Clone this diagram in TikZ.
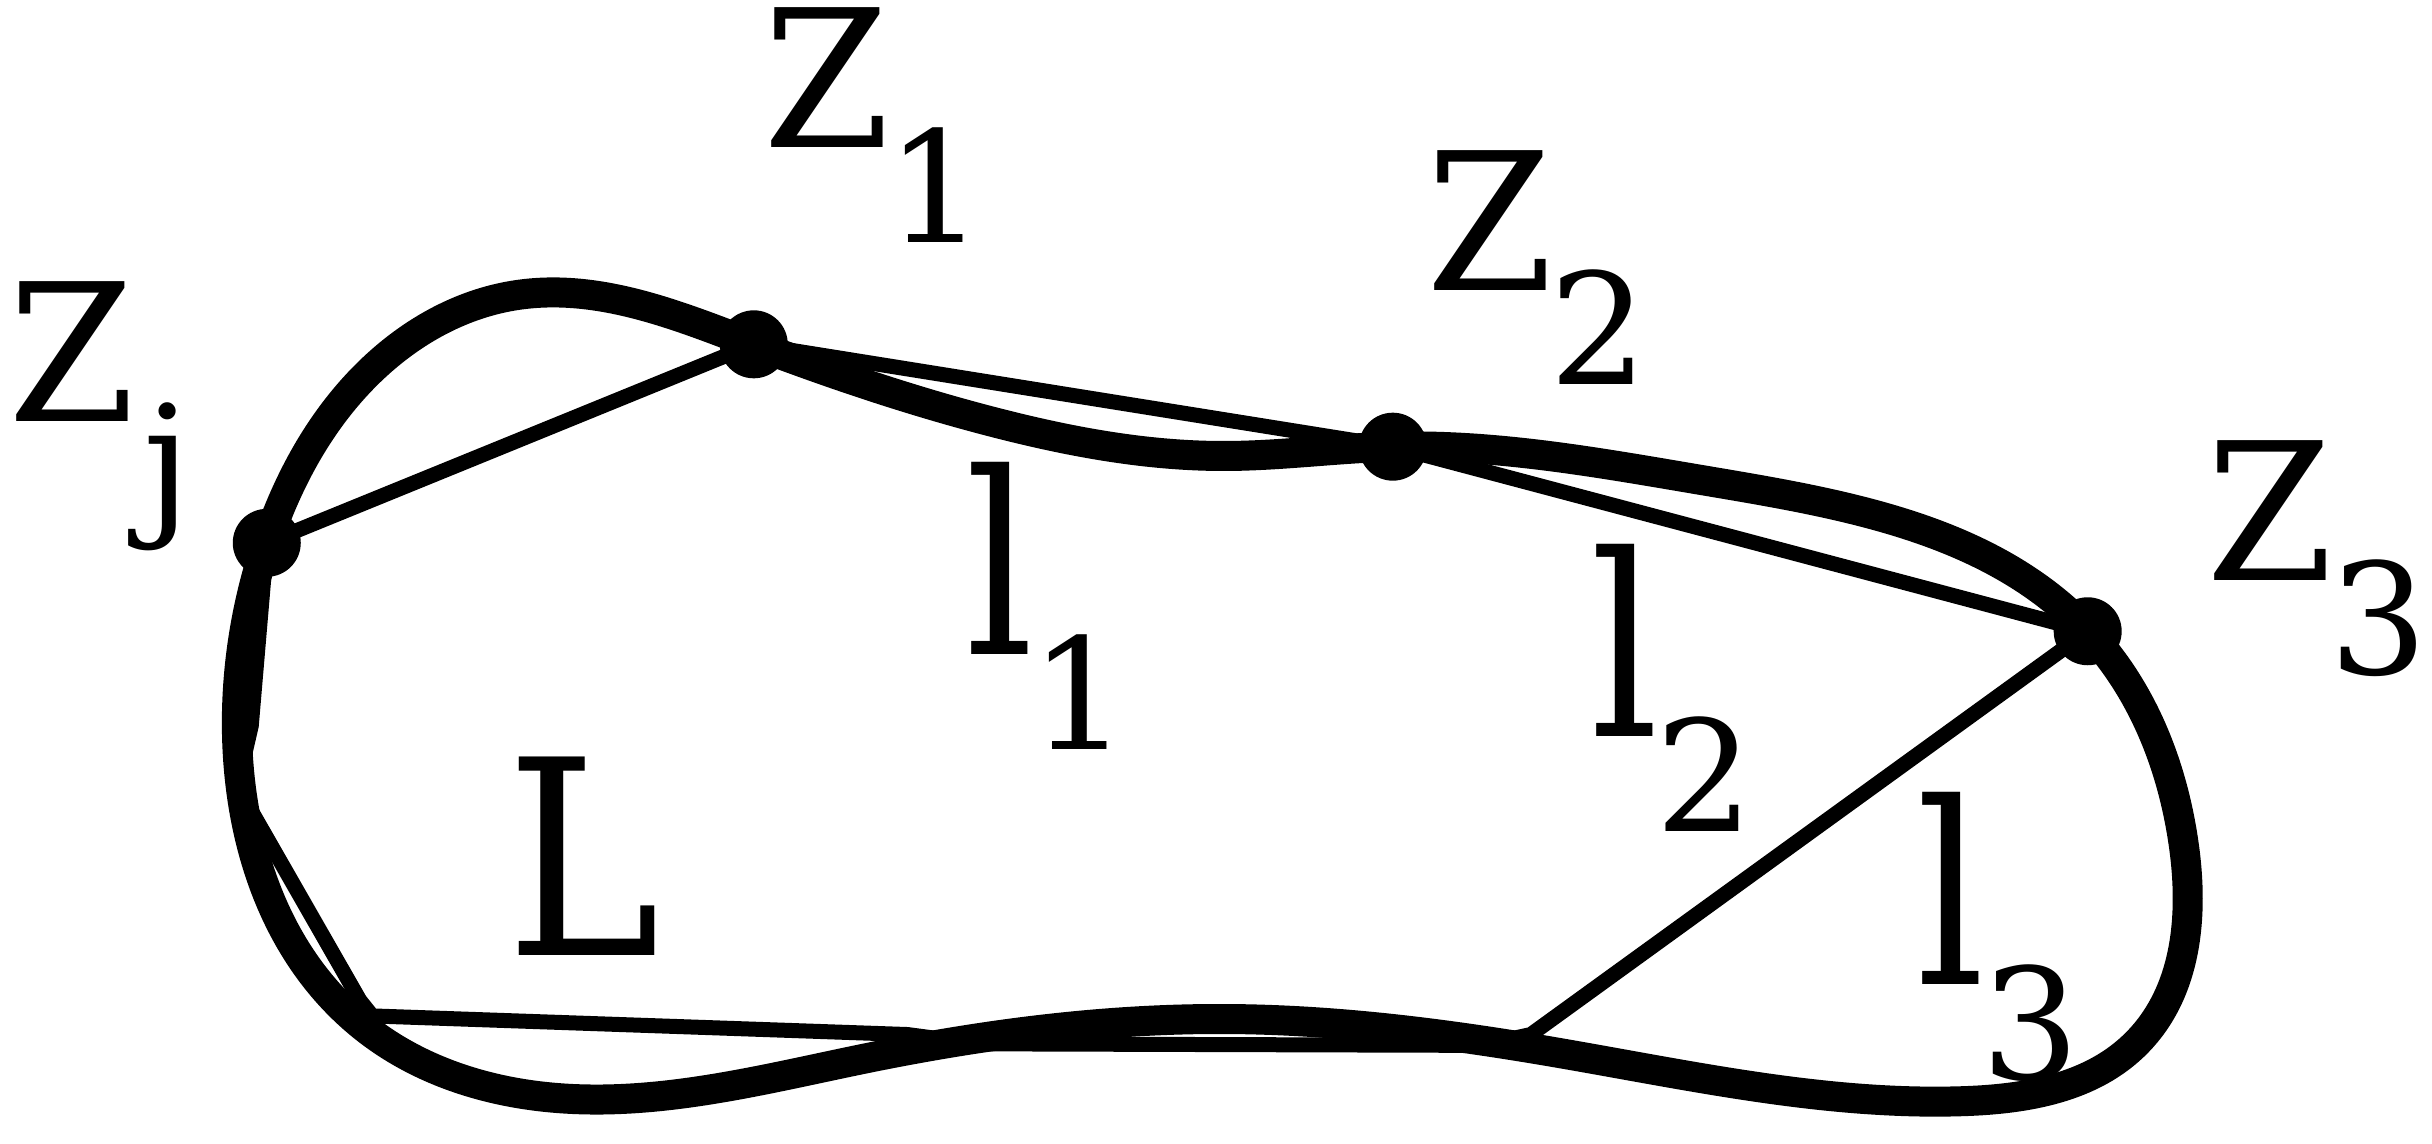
\documentclass[tikz,border=0pt]{standalone}
\usepackage{fontspec}
\usetikzlibrary{hobby}
\newfontfamily\zfont[FakeStretch=0.95]{DejaVu Serif}
\newfontfamily\lfont[FakeStretch=0.85]{DejaVu Serif}
\newfontfamily\dfont{DejaVu Serif}
\newcommand\mylab[4]{{#4\fontsize{#3}{#3}\selectfont #1}\kern-1pt\raisebox{-27pt}{\dfont\fontsize{44pt}{44pt}\selectfont #2}}
\begin{document}
\begin{tikzpicture}[x=0.1551mm, y=-0.1551mm,
  thinline/.style={line width=1.5mm, line join=miter},
  thickcurve/.style={line width=3mm},
  dot/.style={circle, fill=black, inner sep=0pt, minimum size=6.8mm},
  lab/.style={anchor=base west, inner sep=0pt}]
\useasboundingbox (0,0) rectangle (1568,737);
% vertices
\coordinate (zj) at (172,350);
\coordinate (z1) at (486,222);
\coordinate (z2) at (898,288);
\coordinate (z3) at (1346,407);
\coordinate (p) at (987,667);
\coordinate (f) at (955,674);
\coordinate (e) at (630,673);
\coordinate (d) at (585,667);
\coordinate (c) at (240,655);
\coordinate (b) at (232,645);
\coordinate (a2) at (153,507);
\coordinate (a) at (162,468);
% polygon
\draw[thinline] (zj) -- (z1) -- (z2) -- (z3) -- (p) -- (f) -- (e) -- (d) -- (c) -- (b) -- (a2) -- (a) -- cycle;
% closed curve
\draw[thickcurve, use Hobby shortcut, closed=true]
 (172,350) .. (240,238) .. (335,190) .. (486,222) .. (640,272) .. (790,294)
 .. (898,288) .. (1100,310) .. (1346,407) .. (1408,545) .. (1378,672)
 .. (1265,710) .. (1000,678) .. (790,657) .. (560,682) .. (360,708)
 .. (232,660) .. (153,480);
% dots
\node[dot] (dzj) at (zj) {};
\node[dot] (dz1) at (z1) {};
\node[dot] (dz2) at (z2) {};
\node[dot] (dz3) at (z3) {};
% labels
\node[lab] (tzj) at (5,272) {\mylab{Z}{\kern3.5pt j}{54.6pt}{\zfont}};
\node[lab] (tz1) at (492,95) {\mylab{Z}{1}{54.6pt}{\zfont}};
\node[lab] (tz2) at (919,187) {\mylab{Z}{2}{54.6pt}{\zfont}};
\node[lab] (tz3) at (1422,374) {\mylab{Z}{3}{54.6pt}{\zfont}};
\node[lab] (tl1) at (622,422) {\mylab{l}{1}{72pt}{\lfont}};
\node[lab] (tl2) at (1025,475) {\mylab{l}{2}{72pt}{\lfont}};
\node[lab] (tl3) at (1235,635) {\mylab{l}{3}{72pt}{\lfont}};
\node[lab] (tL) at (326,616) {\lfont\fontsize{77.5pt}{77.5pt}\selectfont L};
\end{tikzpicture}
\end{document}
